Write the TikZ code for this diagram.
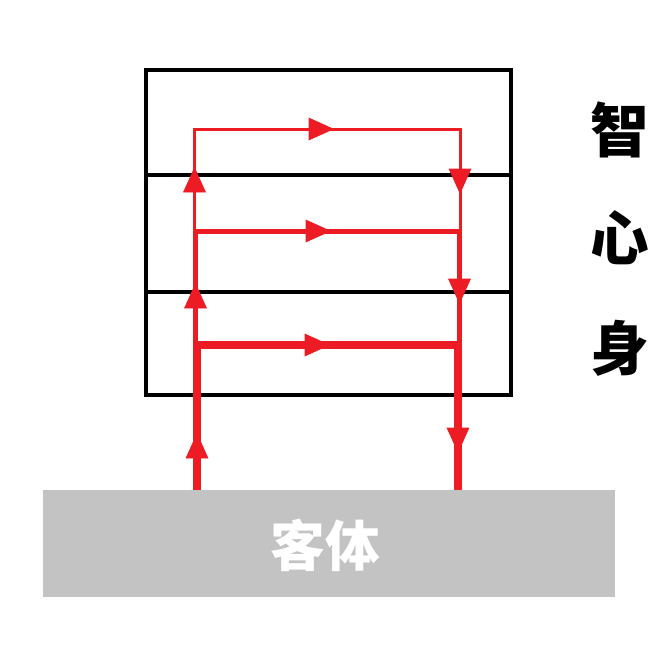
\documentclass[tikz,border=0pt]{standalone}
\usepackage{fontspec}
\newfontfamily\cjk{Noto Sans CJK SC}
\usetikzlibrary{arrows.meta}
\definecolor{pred}{HTML}{ED1C24}
\definecolor{pgray}{HTML}{C3C3C3}
\tikzset{
  blk/.style={draw=black, line width=3pt},
  thin/.style={draw=pred, line width=2.25pt},
  med/.style={draw=pred, line width=3.75pt},
  thick/.style={draw=pred, line width=5.6pt},
  tip/.style={draw=pred, fill=pred, -{Triangle[length=19pt,width=17pt]}, line width=0.5pt},
  lab/.style={font=\cjk\bfseries\fontsize{44}{44}\selectfont, inner sep=0pt},
}
\begin{document}
\begin{tikzpicture}[x=0.75pt, y=-0.75pt]
\useasboundingbox (0,0) rectangle (667,644);
% object base
\node[fill=pgray, minimum width=572*0.75pt, minimum height=107*0.75pt, inner sep=0pt, anchor=north west] (base) at (43,490) {};
\node[font=\cjk\bfseries\fontsize{41}{41}\selectfont, text=white, inner sep=0pt] (obj) at (325,545) {客体};
% frame
\draw[blk] (146,69.5) rectangle (510.5,395);
\draw[blk] (146,175) -- (510.5,175);
\draw[blk] (146,292) -- (510.5,292);
% labels
\node[lab] (zhi) at (620,130) {智};
\node[lab] (xin) at (620,238) {心};
\node[lab] (shen) at (620,348) {身};
% red flow coordinates
\coordinate (l0) at (197,490);
\coordinate (l1) at (197,345);
\coordinate (l1b) at (195.5,345);
\coordinate (l2) at (195.5,231);
\coordinate (l2b) at (194.5,231);
\coordinate (l3) at (194.5,129);
\coordinate (r3) at (460,129);
\coordinate (r2) at (460,231);
\coordinate (r2b) at (459.5,231);
\coordinate (r1) at (459.5,345);
\coordinate (r1b) at (458,345);
\coordinate (r0) at (458,490);
% verticals
\draw[thick] (l0) -- (l1);
\draw[med] ([yshift=-2pt]l1b) -- (l2);
\draw[thin] ([yshift=-2pt]l2b) -- (l3);
\draw[thin] (r3) -- ([yshift=-2pt]r2);
\draw[med] (r2b) -- ([yshift=-2pt]r1);
\draw[thick] (r1b) -- (r0);
% horizontals
\draw[thin, line cap=rect] (l3) -- (r3);
\draw[med] (l2) -- (r2b);
\draw[thick] (l1b) -- (r1b);
% arrowheads
\draw[tip] (300,129) -- (334,129);
\draw[tip] (300,231) -- (331,231);
\draw[tip] (300,345) -- (330,345);
\draw[tip] (194.5,205) -- (194.5,167);
\draw[tip] (195.5,320) -- (195.5,283);
\draw[tip] (197,470) -- (197,433);
\draw[tip] (460,155) -- (460,194);
\draw[tip] (459.5,265) -- (459.5,304);
\draw[tip] (458,415) -- (458,453);
\end{tikzpicture}
\end{document}
